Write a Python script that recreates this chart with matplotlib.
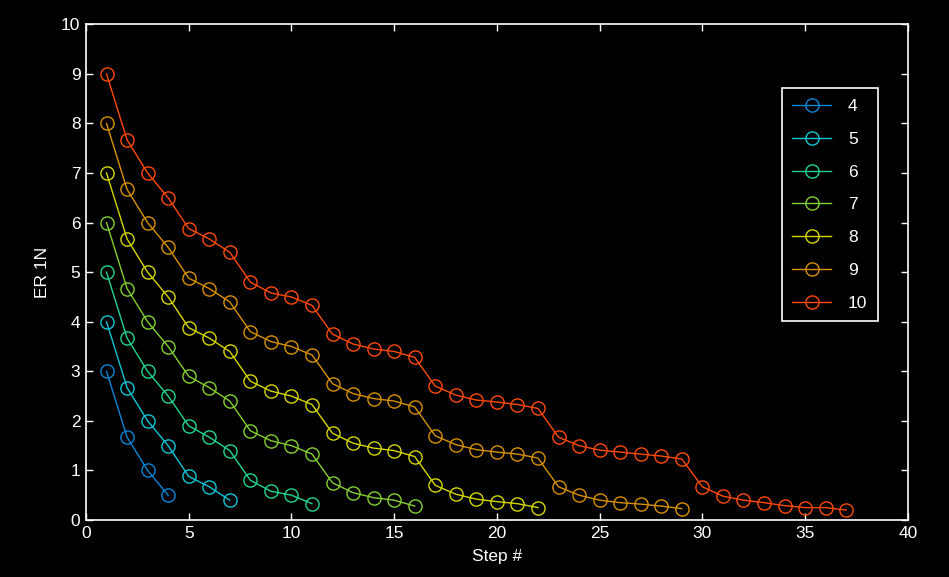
import matplotlib
matplotlib.use("Agg")
import matplotlib.pyplot as plt

plt.rcParams['font.family'] = ['Liberation Sans Narrow', 'Liberation Sans', 'DejaVu Sans']

labels = ['4', '5', '6', '7', '8', '9', '10']
colors = ['#0a86d6', '#10c6d6', '#22d68e', '#84d030', '#d6d600', '#d89200', '#ff4a0a']

er_4 = [3, 1.67, 1, 0.5]
er_5 = [4, 2.67, 2, 1.5, 0.88, 0.67, 0.4]
er_6 = [5, 3.67, 3, 2.5, 1.9, 1.67, 1.4, 0.8, 0.58, 0.5, 0.33]
er_7 = [6, 4.67, 4, 3.5, 2.9, 2.67, 2.4, 1.8, 1.6, 1.5, 1.33,
        0.75, 0.55, 0.45, 0.4, 0.28]
er_8 = [7, 5.67, 5, 4.5, 3.88, 3.67, 3.4, 2.8, 2.6, 2.5, 2.33,
        1.75, 1.55, 1.45, 1.4, 1.28, 0.7, 0.52, 0.42, 0.37, 0.33, 0.25]
er_9 = [8, 6.67, 6, 5.5, 4.88, 4.67, 4.4, 3.8, 3.6, 3.5, 3.33,
        2.75, 2.55, 2.45, 2.4, 2.28, 1.7, 1.52, 1.42, 1.37, 1.33, 1.25,
        0.67, 0.5, 0.4, 0.35, 0.32, 0.28, 0.23]
er_10 = [9, 7.67, 7, 6.5, 5.88, 5.67, 5.4, 4.8, 4.58, 4.5, 4.33,
         3.75, 3.55, 3.45, 3.4, 3.28, 2.7, 2.52, 2.42, 2.38, 2.33, 2.25,
         1.67, 1.5, 1.41, 1.37, 1.33, 1.29, 1.23,
         0.67, 0.48, 0.4, 0.35, 0.29, 0.25, 0.25, 0.2]
series = [er_4, er_5, er_6, er_7, er_8, er_9, er_10]

fig = plt.figure(figsize=(9.49, 5.77), dpi=100, facecolor='black')
ax = fig.add_axes([0.0906, 0.0988, 0.866, 0.859], facecolor='black')

for vals, c, lab in zip(series, colors, labels):
    steps = range(1, len(vals) + 1)
    ax.plot(steps, vals, '-o', color=c, lw=1, ms=9.5, mfc='none',
            mec=c, mew=1, label=lab)

ax.set_xlim(0, 40)
ax.set_ylim(0, 10)
ax.set_xticks(range(0, 41, 5))
ax.set_yticks(range(0, 11))
ax.tick_params(colors='white', direction='in', length=5, width=1,
               top=True, right=True, labelsize=12.5, pad=4)
for s in ax.spines.values():
    s.set_color('white')
    s.set_linewidth(1.2)
ax.set_xlabel('Step #', color='white', fontsize=12.5, labelpad=6)
ax.set_ylabel('ER 1N', color='white', fontsize=12.5, labelpad=8)

leg = ax.legend(loc='upper right', bbox_to_anchor=(0.9635, 0.871),
                borderaxespad=0, facecolor='black', edgecolor='white',
                fancybox=False, fontsize=12.5, labelspacing=1.02,
                handlelength=2.2, handletextpad=1.0, borderpad=0.6,
                framealpha=1)
leg.get_frame().set_linewidth(1.2)
for t in leg.get_texts():
    t.set_color('white')

fig.savefig('out.png', dpi=100, facecolor='black')
